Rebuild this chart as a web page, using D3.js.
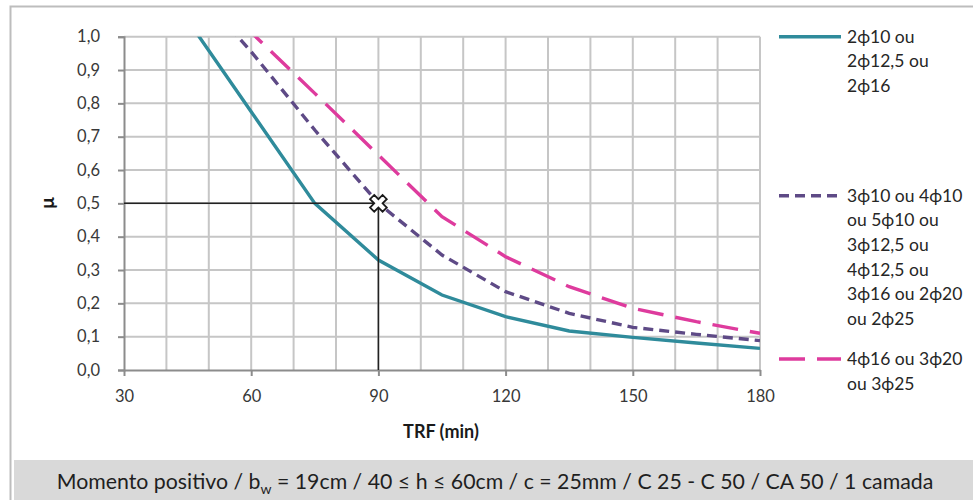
<!DOCTYPE html>
<html>
<head>
<meta charset="utf-8">
<script src="https://cdn.jsdelivr.net/npm/d3@7"></script>
<style>
  html, body { margin: 0; padding: 0; background: #fff; }
  svg { display: block; font-family: Lato, "Open Sans", sans-serif; }
</style>
</head>
<body>
<svg id="chart" width="973" height="500"></svg>
<script>
// Fire resistance time (min) at which each curve is sampled
const trf = [45, 60, 75, 90, 105, 120, 135, 150, 165, 180];

// Load ratio μ for each reinforcement group
const muTwoBars   = [1.05, 0.775, 0.50, 0.33, 0.225, 0.16, 0.117, 0.098, 0.081, 0.065];
const muMidGroup  = [1.17, 0.955, 0.72, 0.50, 0.345, 0.235, 0.17, 0.128, 0.107, 0.088];
const muHeavy     = [1.19, 1.013, 0.83, 0.645, 0.46, 0.34, 0.25, 0.185, 0.145, 0.11];

// Legend texts, one array of lines per series
const seriesNames = [
  ["2ϕ10 ou", "2ϕ12,5 ou", "2ϕ16"],
  ["3ϕ10 ou 4ϕ10", "ou 5ϕ10 ou", "3ϕ12,5 ou", "4ϕ12,5 ou", "3ϕ16 ou 2ϕ20", "ou 2ϕ25"],
  ["4ϕ16 ou 3ϕ20", "ou 3ϕ25"]
];

// Axis ticks
const xTicks = [30, 60, 90, 120, 150, 180];
const xGrid = [40, 50, 60, 70, 80, 90, 100, 110, 120, 130, 140, 150, 160, 170, 180];
const yTicks = [0, 0.1, 0.2, 0.3, 0.4, 0.5, 0.6, 0.7, 0.8, 0.9, 1.0];

// Worked example
const exampleTRF = 90;
const exampleMu = 0.5;

const captionText = ["Momento positivo / b", "w", " = 19cm / 40 ≤ h ≤ 60cm / c = 25mm / C 25 - C 50 / CA 50 / 1 camada"];

const svg = d3.select("#chart");

const x = d3.scaleLinear().domain([30, 180]).range([124, 760]);
const y = d3.scaleLinear().domain([0, 1]).range([370, 36.7]);

const fmt = d => d3.format(".1f")(d).replace(".", ",");

// Outer chart frame
svg.append("path")
  .attr("d", "M10.5,500 V6.5 H973")
  .attr("fill", "none")
  .attr("stroke", "#bdbdbd")
  .attr("stroke-width", 2);

// Caption band
svg.append("rect")
  .attr("x", 14).attr("y", 460).attr("width", 959).attr("height", 40)
  .attr("fill", "#d9d9d9");

const cap = svg.append("text")
  .attr("x", 495).attr("y", 489)
  .attr("text-anchor", "middle")
  .attr("font-size", 21.3)
  .attr("fill", "#1f1f1f");
cap.append("tspan").text(captionText[0]);
cap.append("tspan").attr("font-size", 14).attr("dy", 5).text(captionText[1]);
cap.append("tspan").attr("dy", -5).text(captionText[2]);

// Grid
const grid = svg.append("g").attr("stroke", "#c6c6c6").attr("stroke-width", 2);
grid.selectAll("line.h").data(yTicks.filter(d => d > 0)).join("line")
  .attr("x1", x(30)).attr("x2", x(180))
  .attr("y1", d => y(d)).attr("y2", d => y(d));
grid.selectAll("line.v").data(xGrid).join("line")
  .attr("x1", d => x(d)).attr("x2", d => x(d))
  .attr("y1", y(0)).attr("y2", y(1));

// Y axis
const yAxis = svg.append("g")
  .attr("transform", `translate(${x(30)},0)`)
  .call(d3.axisLeft(y).tickValues(yTicks).tickFormat(fmt).tickSize(6).tickPadding(18));
yAxis.select(".domain").attr("stroke", "#8c8c8c").attr("stroke-width", 2);
yAxis.selectAll(".tick line").attr("stroke", "#8c8c8c").attr("stroke-width", 2);
yAxis.selectAll(".tick text")
  .attr("font-family", "Lato, sans-serif").attr("font-size", 16.5).attr("fill", "#383838");

// X axis
const xAxis = svg.append("g")
  .attr("transform", `translate(0,${y(0)})`)
  .call(d3.axisBottom(x).tickValues(xTicks).tickSize(6).tickSizeOuter(0).tickPadding(14));
xAxis.select(".domain").attr("stroke", "#8c8c8c").attr("stroke-width", 2);
xAxis.selectAll(".tick line").attr("stroke", "#8c8c8c").attr("stroke-width", 2);
xAxis.selectAll(".tick text")
  .attr("font-family", "Lato, sans-serif").attr("font-size", 16.5).attr("fill", "#383838");

// Axis titles
svg.append("text")
  .attr("x", 441).attr("y", 438)
  .attr("text-anchor", "middle")
  .attr("font-size", 18).attr("font-weight", "bold").attr("fill", "#1a1a1a")
  .text("TRF (min)");

svg.append("text")
  .attr("transform", "translate(54,203) rotate(-90)")
  .attr("text-anchor", "middle")
  .attr("font-size", 19).attr("font-weight", "bold").attr("fill", "#1a1a1a")
  .text("μ");

// Clip curves to the plotting area
svg.append("clipPath").attr("id", "plot-clip")
  .append("rect")
  .attr("x", x(30)).attr("y", y(1))
  .attr("width", x(180) - x(30)).attr("height", y(0) - y(1));

const series = [
  { values: muTwoBars,  color: "#2f8b9b", dash: null },
  { values: muMidGroup, color: "#5e4a86", dash: "10,6" },
  { values: muHeavy,    color: "#de3b9d", dash: "26,12" }
];

const line = d3.line()
  .x((d, i) => x(trf[i]))
  .y(d => y(d));

const curves = svg.append("g").attr("clip-path", "url(#plot-clip)");
curves.selectAll("path").data(series).join("path")
  .attr("d", d => line(d.values))
  .attr("fill", "none")
  .attr("stroke", d => d.color)
  .attr("stroke-width", 3.4)
  .attr("stroke-dasharray", d => d.dash);

// Worked example guide lines and marker
const guide = svg.append("g").attr("stroke", "#222").attr("stroke-width", 1.5);
guide.append("line")
  .attr("x1", x(30)).attr("x2", x(exampleTRF))
  .attr("y1", y(exampleMu)).attr("y2", y(exampleMu));
guide.append("line")
  .attr("x1", x(exampleTRF)).attr("x2", x(exampleTRF))
  .attr("y1", y(0)).attr("y2", y(exampleMu));

svg.append("path")
  .attr("d", d3.symbol(d3.symbolCross, 175)())
  .attr("transform", `translate(${x(exampleTRF)},${y(exampleMu)}) rotate(45)`)
  .attr("fill", "#fff")
  .attr("stroke", "#1a1a1a")
  .attr("stroke-width", 1.8);

// Legend
const legendTop = [36.7, 195.7, 359];
const lineStep = 24.6;
const legend = svg.append("g");
series.forEach((s, i) => {
  const g = legend.append("g").attr("transform", `translate(0,${legendTop[i]})`);
  g.append("line")
    .attr("x1", 779).attr("x2", 841).attr("y1", 0).attr("y2", 0)
    .attr("stroke", s.color).attr("stroke-width", 3.4)
    .attr("stroke-dasharray", s.dash);
  g.selectAll("text").data(seriesNames[i]).join("text")
    .attr("x", 847)
    .attr("y", (d, j) => j * lineStep)
    .attr("dy", "0.35em")
    .attr("font-size", 17.5)
    .attr("fill", "#262626")
    .text(d => d);
});
</script>
</body>
</html>
